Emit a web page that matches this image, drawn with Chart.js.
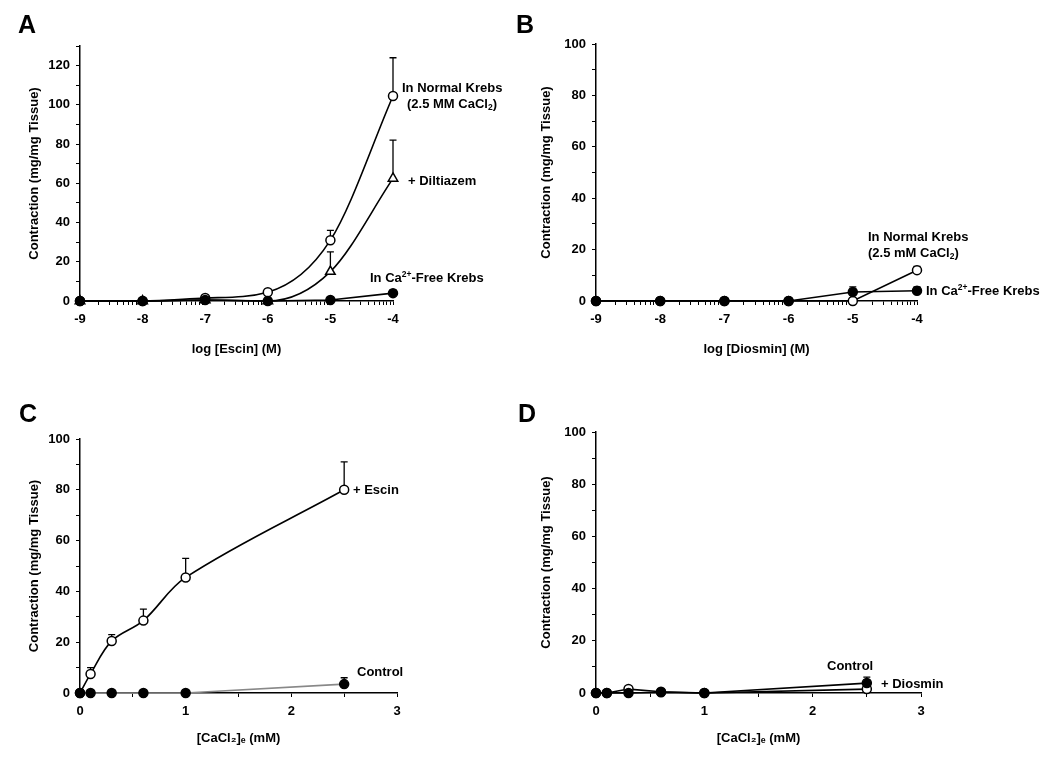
<!DOCTYPE html>
<html>
<head>
<meta charset="utf-8">
<script src="https://cdn.jsdelivr.net/npm/chart.js@4"></script>
<style>
  body { margin: 0; background: #fff; }
  #lienzo { position: relative; width: 1050px; height: 762px; font-family: "Liberation Sans", Arial, sans-serif; font-weight: bold; color: #000; }
  canvas { position: absolute; }
  .letra { position: absolute; font-size: 25px; line-height: 1; }
  .nota { position: absolute; font-size: 13px; line-height: 15px; white-space: nowrap; }
  .nota sub { font-size: 8.5px; vertical-align: -2px; }
  .nota sup { font-size: 8.5px; vertical-align: 5px; }
</style>
</head>
<body>
<div id="lienzo">
  <canvas id="panelA" width="525" height="370" style="left:0;top:0"></canvas>
  <canvas id="panelB" width="525" height="370" style="left:525px;top:0"></canvas>
  <canvas id="panelC" width="525" height="392" style="left:0;top:370px"></canvas>
  <canvas id="panelD" width="525" height="392" style="left:525px;top:370px"></canvas>

  <div class="letra" style="left:18px;top:12px">A</div>
  <div class="letra" style="left:516px;top:12px">B</div>
  <div class="letra" style="left:19px;top:401px">C</div>
  <div class="letra" style="left:518px;top:401px">D</div>

  <div class="nota" style="left:402px;top:80px">In Normal Krebs</div>
  <div class="nota" style="left:407px;top:96px">(2.5 MM CaCl<sub>2</sub>)</div>
  <div class="nota" style="left:408px;top:173px">+ Diltiazem</div>
  <div class="nota" style="left:370px;top:267px">In Ca<sup>2+</sup>-Free Krebs</div>

  <div class="nota" style="left:868px;top:229px">In Normal Krebs</div>
  <div class="nota" style="left:868px;top:245px">(2.5 mM CaCl<sub>2</sub>)</div>
  <div class="nota" style="left:926px;top:280px">In Ca<sup>2+</sup>-Free Krebs</div>

  <div class="nota" style="left:353px;top:482px">+ Escin</div>
  <div class="nota" style="left:357px;top:664px">Control</div>

  <div class="nota" style="left:827px;top:658px">Control</div>
  <div class="nota" style="left:881px;top:676px">+ Diosmin</div>
</div>

<script>
// Datos
// Paneles A y B: log [M]
const dosisLog = [-9, -8, -7, -6, -5, -4];
const escinNormal = [0, 0, 1.5, 4.5, 31, 104.5];
const escinNormalErr = [0, 0, 0, 0, 5, 19.5];
const escinDiltiazem = [0, 0, 0.5, 0, 15, 62.5];
const escinDiltiazemErr = [0, 0, 0, 0, 10, 19.5];
const escinSinCa = [0, 0, 0.5, 0, 0.5, 4];
const escinSinCaErr = [0, 0, 0, 0, 0, 1.5];

const diosminNormal = [0, 0, 0, 0, 0, 12];
const diosminNormalErr = [0, 0, 0, 0, 0, 1.5];
const diosminSinCa = [0, 0, 0, 0, 3.5, 4];
const diosminSinCaErr = [0, 0, 0, 0, 2, 1.5];

// Paneles C y D: [CaCl2]e (mM)
const calcio = [0, 0.1, 0.3, 0.6, 1, 2.5];
const escinCalcio = [0, 7.5, 20.5, 28.5, 45.5, 80];
const escinCalcioErr = [0, 2.5, 2.5, 4.5, 7.5, 11];
const controlC = [0, 0, 0, 0, 0, 3.5];
const controlCErr = [0, 0, 0, 0, 0, 2.5];

const controlD = [0, 0, 0, 0.3, 0, 3.8];
const controlDErr = [0, 0, 0, 0, 0, 2.3];
const diosminCalcio = [0, 0, 1.5, 0.5, 0, 1.5];

const fuente = { family: '"Liberation Sans", Arial, sans-serif', weight: 'bold', size: 13 };
const tituloY = 'Contraction (mg/mg Tissue)';

// Barras de error (solo hacia arriba)
const barrasError = {
    id: 'barrasError',
    beforeDatasetsDraw(chart) {
        const ctx = chart.ctx;
        const ex = chart.scales.x, ey = chart.scales.y;
        chart.data.datasets.forEach(ds => {
            if (!ds.errores) return;
            ds.data.forEach((p, i) => {
                const e = ds.errores[i];
                if (!e) return;
                const px = ex.getPixelForValue(p.x);
                const y0 = ey.getPixelForValue(p.y);
                const y1 = ey.getPixelForValue(p.y + e);
                ctx.save();
                ctx.strokeStyle = '#000';
                ctx.lineWidth = 1.3;
                ctx.beginPath();
                ctx.moveTo(px, y0);
                ctx.lineTo(px, y1);
                ctx.moveTo(px - 3.5, y1);
                ctx.lineTo(px + 3.5, y1);
                ctx.stroke();
                ctx.restore();
            });
        });
    }
};

function serie(xs, ys, errores, estilo) {
    return Object.assign({
        data: xs.map((x, i) => ({ x: x, y: ys[i] })),
        errores: errores,
        borderColor: '#000',
        borderWidth: 1.6,
        pointRadius: 4.5,
        pointBorderWidth: 1.5,
        pointBorderColor: '#000',
        pointBackgroundColor: '#fff',
        tension: 0,
        clip: false
    }, estilo);
}

function crearPanel(id, p) {
    const ctx = document.getElementById(id).getContext('2d');
    const ejeX = {
        type: 'linear',
        min: p.xMin,
        max: p.xMax,
        afterFit: (s) => { s.height = p.altoX; },
        border: { display: true, color: '#000', width: 1.5 },
        grid: { drawOnChartArea: false, drawTicks: true, tickLength: 4, color: '#000', lineWidth: 1 },
        ticks: {
            autoSkip: false,
            maxRotation: 0,
            color: '#000',
            font: fuente,
            padding: 7,
            callback: (v) => Number.isInteger(v) ? v : ''
        },
        title: { display: true, text: p.tituloX, color: '#000', font: fuente, padding: { top: 0, bottom: p.padTituloX } }
    };
    if (p.log) {
        // marcas menores logarítmicas entre décadas
        ejeX.afterBuildTicks = (s) => {
            const t = [];
            for (let d = p.xMin; d < p.xMax; d++) {
                t.push({ value: d });
                for (let k = 2; k <= 9; k++) t.push({ value: d + Math.log10(k) });
            }
            t.push({ value: p.xMax });
            s.ticks = t;
        };
    } else {
        ejeX.ticks.stepSize = 0.5;
    }

    new Chart(ctx, {
        type: 'line',
        data: { datasets: p.series },
        options: {
            responsive: false,
            animation: false,
            devicePixelRatio: 1,
            layout: { padding: { left: 0, top: p.arriba, right: p.derecha, bottom: 0 } },
            plugins: { legend: { display: false }, tooltip: { enabled: false } },
            scales: {
                x: ejeX,
                y: {
                    min: 0,
                    max: p.yMax,
                    afterFit: (s) => { s.width = p.anchoY; },
                    border: { display: true, color: '#000', width: 1.5 },
                    grid: { drawOnChartArea: false, drawTicks: true, tickLength: 4, color: '#000', lineWidth: 1 },
                    ticks: {
                        stepSize: 10,
                        color: '#000',
                        font: fuente,
                        padding: 6,
                        callback: (v) => v % 20 === 0 ? v : ''
                    },
                    title: { display: true, text: tituloY, color: '#000', font: fuente, padding: { top: p.padTituloY, bottom: 0 } }
                }
            }
        },
        plugins: [barrasError]
    });
}

document.addEventListener('DOMContentLoaded', function() {
    crearPanel('panelA', {
        log: true, xMin: -9, xMax: -4, yMax: 130,
        arriba: 46, derecha: 132, anchoY: 80, altoX: 69,
        padTituloY: 27, padTituloX: 13,
        tituloX: 'log [Escin] (M)',
        series: [
            serie(dosisLog, escinSinCa, escinSinCaErr, { pointBackgroundColor: '#000' }),
            serie(dosisLog, escinNormal, escinNormalErr, { cubicInterpolationMode: 'monotone' }),
            serie(dosisLog, escinDiltiazem, escinDiltiazemErr, { cubicInterpolationMode: 'monotone', pointStyle: 'triangle', pointRadius: 5.5 })
        ]
    });

    crearPanel('panelB', {
        log: true, xMin: -9, xMax: -4, yMax: 100,
        arriba: 44, derecha: 133, anchoY: 71, altoX: 69,
        padTituloY: 14, padTituloX: 13,
        tituloX: 'log [Diosmin] (M)',
        series: [
            serie(dosisLog, diosminSinCa, diosminSinCaErr, { pointBackgroundColor: '#000' }),
            serie(dosisLog, diosminNormal, diosminNormalErr, {})
        ]
    });

    crearPanel('panelC', {
        log: false, xMin: 0, xMax: 3, yMax: 100,
        arriba: 69, derecha: 128, anchoY: 80, altoX: 69,
        padTituloY: 27, padTituloX: 16,
        tituloX: '[CaCl₂]ₑ (mM)',
        series: [
            serie(calcio, controlC, controlCErr, { pointBackgroundColor: '#000', borderColor: '#888' }),
            serie(calcio, escinCalcio, escinCalcioErr, { tension: 0.35 })
        ]
    });

    crearPanel('panelD', {
        log: false, xMin: 0, xMax: 3, yMax: 100,
        arriba: 62, derecha: 129, anchoY: 71, altoX: 69,
        padTituloY: 14, padTituloX: 16,
        tituloX: '[CaCl₂]ₑ (mM)',
        series: [
            serie(calcio, controlD, controlDErr, { pointBackgroundColor: '#000' }),
            serie(calcio, diosminCalcio, null, {})
        ]
    });
});
</script>
</body>
</html>
